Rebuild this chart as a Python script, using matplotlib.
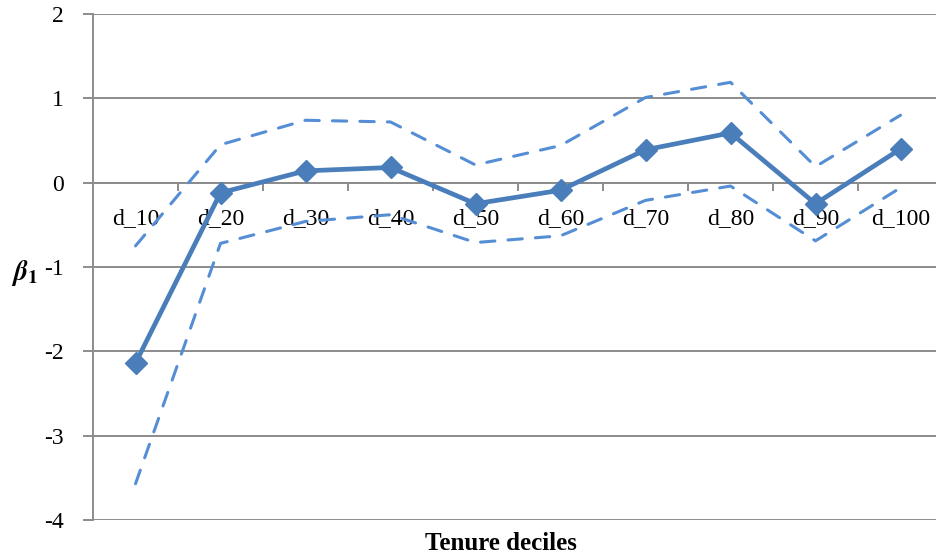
import numpy as np
import matplotlib
matplotlib.use("Agg")
import matplotlib.pyplot as plt

# ============================================================
# Coefficients by tenure decile with confidence bounds
# ============================================================
deciles = ["d_10", "d_20", "d_30", "d_40", "d_50", "d_60", "d_70", "d_80", "d_90", "d_100"]
beta = [-2.14, -0.12, 0.14, 0.18, -0.25, -0.09, 0.39, 0.59, -0.25, 0.40]
upper = [-0.75, 0.45, 0.74, 0.72, 0.21, 0.44, 1.01, 1.19, 0.19, 0.80]
lower = [-3.57, -0.72, -0.46, -0.38, -0.71, -0.63, -0.21, -0.04, -0.69, -0.06]

plt.rcParams["font.family"] = ["Liberation Serif", "DejaVu Serif"]
plt.rcParams["mathtext.fontset"] = "stix"

main_col = "#4A7EBB"
band_col = "#558ED5"
grid_col = "#8C8C8C"

fig = plt.figure(figsize=(9.36, 5.6), dpi=100)
ax = fig.add_axes([93 / 936, 1 - 520 / 560, 850 / 936, 506 / 560])

x = np.arange(len(deciles))

dash = (0, (4.7, 4.3))
ax.plot(x, upper, color=band_col, lw=2.2, ls=dash, dash_capstyle="round", zorder=3)
ax.plot(x, lower, color=band_col, lw=2.2, ls=dash, dash_capstyle="round", zorder=3)
ax.plot(x, beta, color=main_col, lw=3.4, marker="D", markersize=11, zorder=4)

ax.set_xlim(-0.5, len(deciles) - 0.5)
ax.set_ylim(-4, 2)
ax.set_yticks(np.arange(-4, 3, 1))
ax.set_yticklabels([str(v) for v in range(-4, 3)], fontsize=17)
ax.yaxis.grid(True, color=grid_col, lw=1.4)
ax.set_axisbelow(True)

for s in ["top", "right", "bottom"]:
    ax.spines[s].set_visible(False)
ax.spines["left"].set_color(grid_col)
ax.spines["left"].set_linewidth(1.4)
ax.tick_params(axis="y", length=7, width=1.4, color=grid_col, pad=14)

# category axis drawn through zero
ax.axhline(0, color=grid_col, lw=1.4, zorder=1)
for b in np.arange(0.5, len(deciles) - 0.5, 1):
    ax.plot([b, b], [0, -0.085], color=grid_col, lw=1.4, zorder=1, clip_on=False)
ax.set_xticks([])
for xi, lab in zip(x, deciles):
    ax.text(xi, -0.42, lab, ha="center", va="center", fontsize=17, zorder=2)

fig.text(25 / 936, 1 - 273 / 560, r"$\boldsymbol{\beta}_{\mathbf{1}}$", ha="center", va="center", fontsize=20)
fig.text(501 / 936, 1 - 543 / 560, "Tenure deciles", ha="center", va="center",
         fontsize=18, fontweight="bold")

fig.savefig("out.png", dpi=100)
